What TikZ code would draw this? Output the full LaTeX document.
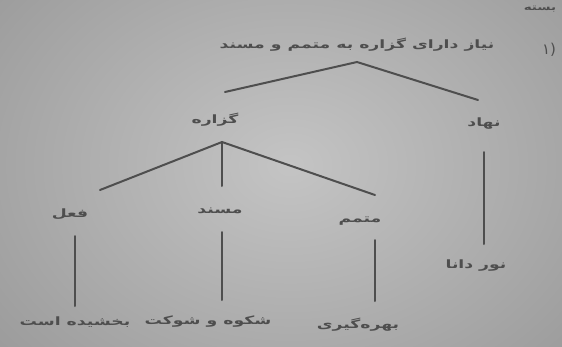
\documentclass[tikz,border=0pt]{standalone}
\usepackage{fontspec}
\usepackage{graphicx}
\newfontfamily\farsi[Script=Arabic]{DejaVu Sans}
\TeXXeTstate=1
\usetikzlibrary{positioning, shadings}

\definecolor{paperlight}{RGB}{196,196,196}
\definecolor{paperdark}{RGB}{152,152,152}
\definecolor{ink}{RGB}{78,78,78}

% wide, flat Persian words as on the photographed page
\newcommand{\fa}[1]{\scalebox{1.5}[1]{\farsi\bfseries\beginR #1\endR}}

\begin{document}
\begin{tikzpicture}[
    x=1pt, y=-1pt,
    word/.style={text=ink, font=\farsi\fontsize{11.5}{12}\selectfont, inner sep=1pt},
    branch/.style={draw=ink, line width=2pt, line cap=round}
]

% ============= PAPER =============
\useasboundingbox (0,0) rectangle (562,346);
\clip (0,0) rectangle (562,346);
\shade[inner color=paperlight, outer color=paperdark] (-120,-150) rectangle (700,480);

% ============= HEADING =============
\node[word] (heading) at (357,45) {\fa{نیاز دارای گزاره به متمم و مسند}};
\node[word, font=\farsi\fontsize{15}{15}\selectfont] (num) at (549,50) {(۱};
\node[word, font=\farsi\fontsize{9}{10}\selectfont] (cut) at (540,9) {\fa{بسته}};

% ============= TREE =============
\coordinate (root) at (357,62);
\node[word] (gozare) at (215,120) {\fa{گزاره}};
\node[word] (nahad) at (484,124) {\fa{نهاد}};

\coordinate (gtop) at (222,142);
\node[word] (feel) at (70,214) {\fa{فعل}};
\node[word] (mosnad) at (220,211) {\fa{مسند}};
\node[word] (motammam) at (360,221) {\fa{متمم}};

% Leaves
\node[word] (leafA) at (75,322) {\fa{بخشیده است}};
\node[word] (leafB) at (208,322) {\fa{شکوه و شوکت}};
\node[word] (leafC) at (358,325) {\fa{بهره‌گیری}};
\node[word] (leafD) at (476,266) {\fa{نور دانا}};

% Branches
\draw[branch] (225,92) -- (root) -- (478,100);
\draw[branch] (100,190) -- (gtop) -- (375,195);
\draw[branch] (gtop) -- (222,186);
\draw[branch] (484,152) -- (484,244);
\draw[branch] (75,236) -- (75,306);
\draw[branch] (222,232) -- (222,300);
\draw[branch] (375,240) -- (375,301);

\end{tikzpicture}
\end{document}
